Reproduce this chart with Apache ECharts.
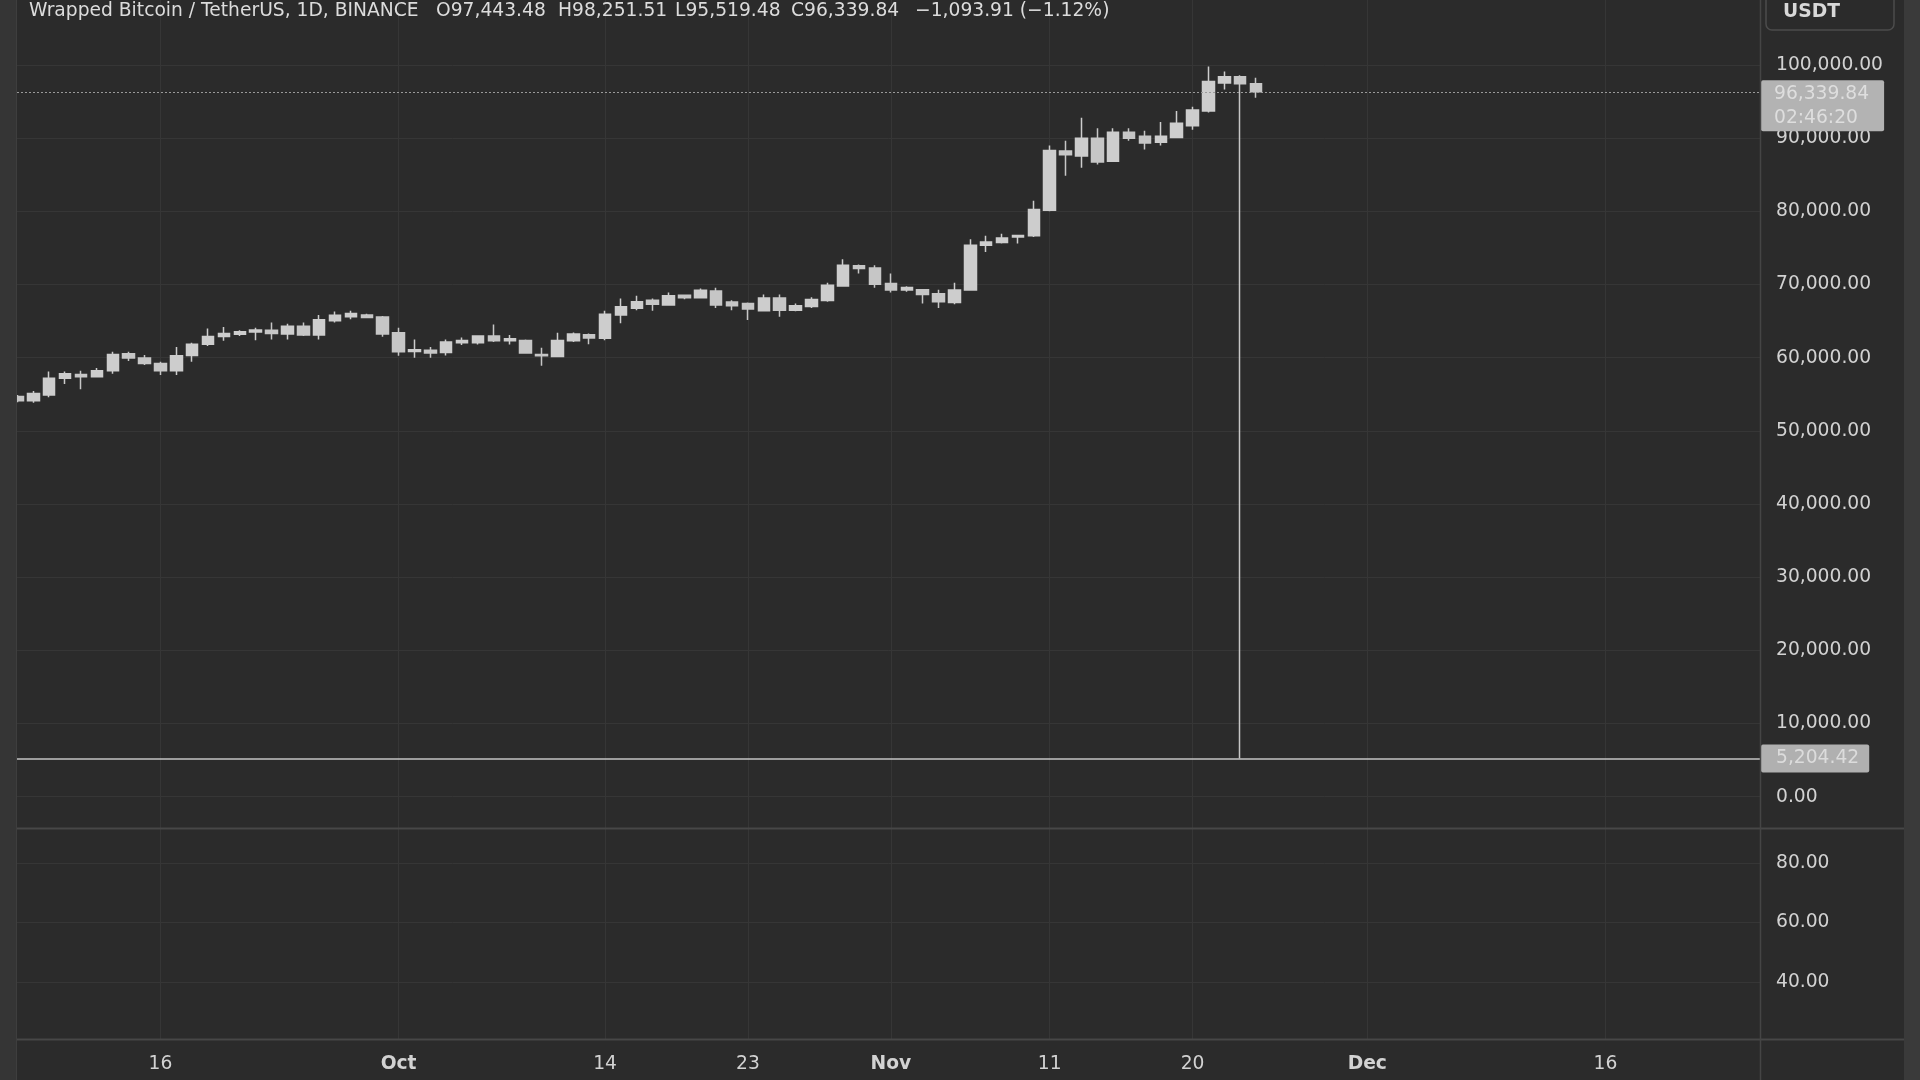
<!DOCTYPE html>
<html>
<head>
<meta charset="utf-8">
<style>html,body{margin:0;padding:0;background:#2b2b2b;}#c{width:1920px;height:1080px;}</style>
<script src="https://cdn.jsdelivr.net/npm/echarts@6/dist/echarts.min.js"></script>
</head>
<body>
<div id="c"></div>
<script>
// ---------- data ----------
const dates = [
 '2024-09-07','2024-09-08','2024-09-09','2024-09-10','2024-09-11','2024-09-12','2024-09-13','2024-09-14','2024-09-15','2024-09-16',
 '2024-09-17','2024-09-18','2024-09-19','2024-09-20','2024-09-21','2024-09-22','2024-09-23','2024-09-24','2024-09-25','2024-09-26',
 '2024-09-27','2024-09-28','2024-09-29','2024-09-30',
 '2024-10-01','2024-10-02','2024-10-03','2024-10-04','2024-10-05','2024-10-06','2024-10-07','2024-10-08','2024-10-09','2024-10-10',
 '2024-10-11','2024-10-12','2024-10-13','2024-10-14','2024-10-15','2024-10-16','2024-10-17','2024-10-18','2024-10-19','2024-10-20',
 '2024-10-21','2024-10-22','2024-10-23','2024-10-24','2024-10-25','2024-10-26','2024-10-27','2024-10-28','2024-10-29','2024-10-30','2024-10-31',
 '2024-11-01','2024-11-02','2024-11-03','2024-11-04','2024-11-05','2024-11-06','2024-11-07','2024-11-08','2024-11-09','2024-11-10',
 '2024-11-11','2024-11-12','2024-11-13','2024-11-14','2024-11-15','2024-11-16','2024-11-17','2024-11-18','2024-11-19','2024-11-20',
 '2024-11-21','2024-11-22','2024-11-23','2024-11-24'
];
const opens = [
 54700,54100,54900,57200,57700,57400,58200,60550,59950,59200,
 58200,60300,61850,62900,63200,63500,63750,63250,64300,63100,
 65050,65600,65850,65550,
 63400,60850,61000,60700,62050,62050,62950,62300,62350,60450,
 60150,62300,63150,62650,65850,66750,67850,67200,68550,68200,
 69100,67600,67400,66400,68150,66500,67000,67800,69800,72550,72250,
 70150,69250,69300,68750,67550,69250,75350,75750,76500,76650,
 80150,88250,87550,90000,86850,90800,90250,89450,90100,91700,
 93700,97550,98400,97443.48
];
const highs = [
 54900,55450,58100,58100,58200,58600,60800,60800,60350,59450,
 61450,62050,64000,64200,63750,64100,64800,64650,64800,65850,
 66300,66400,66000,65700,
 64100,62500,61450,62500,62750,63050,64550,63100,62500,61350,
 63400,63450,63300,66400,68100,68450,68100,68900,68650,69450,
 69550,67850,67550,68650,68650,67400,68250,70250,73450,72750,72650,
 71500,69750,69350,69300,70250,76200,76650,76950,76800,81450,
 89000,89650,92800,91350,91350,91350,91000,92200,93700,94300,
 99800,99100,98600,98251.51
];
const lows = [
 53900,53850,54600,56400,55700,57300,57800,59550,59000,57650,
 57650,59450,61600,62300,62950,62400,62500,62500,62950,62500,
 64800,65250,65400,62850,
 60250,60000,60000,60300,61750,61800,62150,61800,60550,58900,
 60100,62150,61850,62400,64700,66500,66400,67100,68000,68100,
 66800,66500,65150,66300,65600,66350,66800,67650,69700,71500,69550,
 68900,69000,67400,66800,67300,69200,74450,75600,75600,76500,
 80000,84850,85950,86400,86750,89650,88450,89000,90000,91150,
 93500,96650,5204.42,95519.48
];
const closes = [
 54100,55100,57200,57800,57400,58200,60450,59950,59200,58200,
 60250,61850,62900,63300,63550,63800,63300,64300,63100,65200,
 65800,66050,65500,63250,
 60800,61100,60650,62150,62350,62950,62300,62600,60650,60250,
 62350,63250,62700,65950,66950,67650,67300,68450,68200,69200,
 67200,67100,66650,68150,66500,67100,67950,69900,72650,72200,70050,
 69250,69600,68650,67650,69250,75350,75800,76350,76700,80250,
 88300,87750,90000,86750,90800,90000,89350,90250,92050,93850,
 97750,98400,97433.75,96339.84
];
const tickDates  = ['2024-09-16','2024-10-01','2024-10-14','2024-10-23','2024-11-01','2024-11-11','2024-11-20','2024-12-01','2024-12-16'];
const tickLabels = ['16','Oct','14','23','Nov','11','20','Dec','16'];
const monthLabels = ['Oct','Nov','Dec'];
const priceTicks = [0,10000,20000,30000,40000,50000,60000,70000,80000,90000,100000];
const oscTicks = [40,60,80];
const symbolTitle = 'Wrapped Bitcoin / TetherUS, 1D, BINANCE';
const quoteUnit = 'USDT';
const countdown = '02:46:20';

// ---------- helpers ----------
const BASE = Date.UTC(2024, 8, 16);
function dayNum(s){ const p = s.split('-').map(Number); return (Date.UTC(p[0], p[1]-1, p[2]) - BASE) / 86400000; }
function fmt2(v){ return v.toLocaleString('en-US', {minimumFractionDigits:2, maximumFractionDigits:2}); }
function sfmt(v){ return (v < 0 ? '\u2212' : '') + fmt2(Math.abs(v)); }

const tickDays = tickDates.map(dayNum);
const candleData = dates.map((d, i) => [dayNum(d), opens[i], closes[i], lows[i], highs[i]]);
const n = dates.length;
const lastO = opens[n-1], lastH = highs[n-1], lastL = lows[n-1], lastC = closes[n-1];
const prevC = closes[n-2];
const chg = lastC - prevC;
const chgPct = chg / prevC * 100;
const crashLow = Math.min.apply(null, lows);

const X_MIN = -9.03, X_MAX = 100.73;
const GRIDC = '#363636';
const LBL = '#d2d2d2';
const FONT = 'DejaVu Sans';
const FS = 18.7;

const chart = echarts.init(document.getElementById('c'), null, {renderer: 'canvas'});

const xCommon = {
  type: 'value', min: X_MIN, max: X_MAX,
  axisLine: {show: false},
  axisTick: {show: false, customValues: tickDays},
  splitLine: {show: true, lineStyle: {color: GRIDC, width: 1}}
};

const headerItems = [
  {x: 29,  t: symbolTitle},
  {x: 436, t: 'O' + fmt2(lastO)},
  {x: 558, t: 'H' + fmt2(lastH)},
  {x: 675, t: 'L' + fmt2(lastL)},
  {x: 791, t: 'C' + fmt2(lastC)},
  {x: 915, t: sfmt(chg) + ' (' + sfmt(chgPct) + '%)'}
];

const option = {
  backgroundColor: '#2b2b2b',
  animation: false,
  textStyle: {fontFamily: FONT},
  grid: [
    {left: 17, right: 160, top: 0, height: 828},
    {left: 17, right: 160, top: 828, height: 211}
  ],
  xAxis: [
    Object.assign({}, xCommon, {gridIndex: 0, axisLabel: {show: false, customValues: tickDays}}),
    Object.assign({}, xCommon, {gridIndex: 1, axisLabel: {
      show: true, customValues: tickDays, margin: 16,
      color: LBL, fontSize: FS, fontFamily: FONT,
      formatter: function (v) {
        const i = tickDays.indexOf(Math.round(v));
        if (i < 0) return '';
        const t = tickLabels[i];
        return monthLabels.indexOf(t) >= 0 ? '{b|' + t + '}' : t;
      },
      rich: {b: {fontWeight: 'bold', color: LBL, fontSize: FS, fontFamily: FONT}}
    }})
  ],
  yAxis: [
    {
      type: 'value', gridIndex: 0, position: 'right', min: -4278, max: 108885,
      axisLine: {show: false},
      axisTick: {show: false, customValues: priceTicks},
      axisLabel: {customValues: priceTicks, margin: 16, padding: [4, 0, 0, 0], color: LBL, fontSize: FS, fontFamily: FONT, formatter: v => fmt2(v)},
      splitLine: {show: true, lineStyle: {color: GRIDC, width: 1}}
    },
    {
      type: 'value', gridIndex: 1, position: 'right', min: 20.84, max: 91.76,
      axisLine: {show: false},
      axisTick: {show: false, customValues: oscTicks},
      axisLabel: {customValues: oscTicks, margin: 16, padding: [4, 0, 0, 0], color: LBL, fontSize: FS, fontFamily: FONT, formatter: v => fmt2(v)},
      splitLine: {show: true, lineStyle: {color: GRIDC, width: 1}}
    }
  ],
  series: [{
    type: 'candlestick',
    xAxisIndex: 0, yAxisIndex: 0,
    data: candleData,
    encode: {x: 0, y: [1, 2, 3, 4]},
    barWidth: 12,
    clip: false,
    silent: true,
    itemStyle: {
      color: '#cdcdcd', color0: '#c6c6c6',
      borderColor: '#cdcdcd', borderColor0: '#c6c6c6', borderColorDoji: '#cdcdcd',
      borderWidth: 1.5
    },
    markLine: {
      silent: true, animation: false, symbol: ['none', 'none'],
      data: [
        {
          yAxis: lastC,
          lineStyle: {type: [2, 2], color: '#9a9a9a', width: 1},
          label: {
            show: true, position: 'end', distance: 1, offset: [0, 14],
            formatter: fmt2(lastC) + '\n' + countdown,
            backgroundColor: '#b3b3b3', color: '#dedede', fontFamily: FONT, fontSize: FS,
            lineHeight: 24, padding: [2, 15, 1, 13], borderRadius: 2, align: 'left'
          }
        },
        {
          yAxis: crashLow,
          lineStyle: {type: 'solid', color: '#c4c4c4', width: 1.5},
          label: {
            show: true, position: 'end', distance: 1,
            formatter: fmt2(crashLow),
            backgroundColor: '#b0b0b0', color: '#dcdcdc', fontFamily: FONT, fontSize: FS,
            lineHeight: 22, padding: [4, 10, 2, 15], borderRadius: 2, align: 'left'
          }
        }
      ]
    }
  }],
  graphic: {elements: [
    {type: 'rect', shape: {x: 0, y: 0, width: 16, height: 1080}, style: {fill: '#353535'}, z: 100, silent: true},
    {type: 'line', shape: {x1: 16.5, y1: 0, x2: 16.5, y2: 1080}, style: {stroke: '#3e3e3e', lineWidth: 1}, z: 100, silent: true},
    {type: 'rect', shape: {x: 1904, y: 0, width: 16, height: 1080}, style: {fill: '#3a3a3a'}, z: 100, silent: true},
    {type: 'line', shape: {x1: 16, y1: 828.5, x2: 1904, y2: 828.5}, style: {stroke: '#474747', lineWidth: 2}, z: 50, silent: true},
    {type: 'line', shape: {x1: 16, y1: 1039.5, x2: 1904, y2: 1039.5}, style: {stroke: '#474747', lineWidth: 2}, z: 50, silent: true},
    {type: 'line', shape: {x1: 1760.5, y1: 0, x2: 1760.5, y2: 1080}, style: {stroke: '#454545', lineWidth: 1.5}, z: 50, silent: true},
    {type: 'rect', shape: {x: 1766, y: -10, width: 128, height: 40, r: 6}, style: {fill: '#2b2b2b', stroke: '#4c4c4c', lineWidth: 1.5}, z: 60, silent: true},
    {type: 'text', x: 1783, y: 12, style: {text: quoteUnit, fill: '#d8d8d8', font: 'bold 18.7px "DejaVu Sans"', textVerticalAlign: 'middle', verticalAlign: 'middle'}, z: 61, silent: true}
  ].concat(headerItems.map(h => ({
    type: 'text', x: h.x, y: 11, z: 70, silent: true,
    style: {text: h.t, fill: '#dcdcdc', font: '18.7px "DejaVu Sans"', verticalAlign: 'middle', textVerticalAlign: 'middle'}
  })))}
};
chart.setOption(option);
</script>
</body>
</html>
